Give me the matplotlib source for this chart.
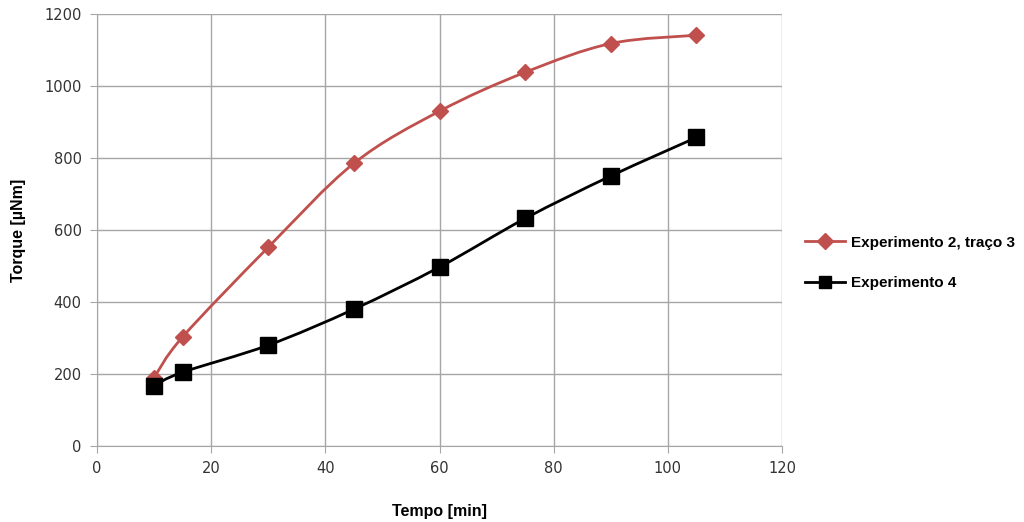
import numpy as np
import matplotlib
matplotlib.use('Agg')
import matplotlib.pyplot as plt
from matplotlib.path import Path
from matplotlib.patches import PathPatch
from matplotlib.lines import Line2D
from matplotlib.font_manager import FontProperties

plt.rcParams['font.family'] = 'DejaVu Sans'

# data
tempo = [10, 15, 30, 45, 60, 75, 90, 105]
exp2_traco3 = [190, 303, 552, 785, 930, 1038, 1118, 1141]
exp4 = [168, 205, 280, 380, 497, 632, 750, 857]
x_ticks = [0, 20, 40, 60, 80, 100, 120]
y_ticks = [0, 200, 400, 600, 800, 1000, 1200]

red = '#C0504D'
grid_col = '#A6A6A6'

tick_font = FontProperties(family='DejaVu Sans', size=10.5)
label_font = FontProperties(family='Liberation Sans', weight='bold', size=11.5)
legend_font = FontProperties(family='Liberation Sans', weight='bold', size=11)


def smooth_path(ax, x, y, tension=0.5):
    # Excel-style smoothed line: cubic bezier through the data points (in pixel space)
    pts = ax.transData.transform(np.column_stack([x, y]))
    verts = [pts[0]]
    codes = [Path.MOVETO]
    n = len(pts)
    for i in range(n - 1):
        p0 = pts[i - 1] if i > 0 else pts[i]
        p1 = pts[i]
        p2 = pts[i + 1]
        p3 = pts[i + 2] if i + 2 < n else pts[i + 1]
        c1 = p1 + (p2 - p0) * tension / 3
        c2 = p2 - (p3 - p1) * tension / 3
        verts += [c1, c2, p2]
        codes += [Path.CURVE4] * 3
    return Path(verts, codes)


fig = plt.figure(figsize=(10.24, 5.22), dpi=100)
ax = fig.add_axes([0.0947, 0.1456, 0.669, 0.8276])

ax.set_xlim(0, 120)
ax.set_ylim(0, 1200)
ax.set_xticks(x_ticks)
ax.set_xticklabels([str(t) for t in x_ticks], fontproperties=tick_font)
ax.set_yticks(y_ticks)
ax.set_yticklabels([str(t) for t in y_ticks], fontproperties=tick_font)
ax.grid(True, color=grid_col, linewidth=1)
ax.set_axisbelow(True)
for s in ['top', 'right']:
    ax.spines[s].set_visible(False)
for s in ['left', 'bottom']:
    ax.spines[s].set_color(grid_col)
ax.tick_params(direction='out', length=5, color=grid_col,
               labelcolor='#333333', pad=6)

# smoothed lines
for yy, col in [(exp2_traco3, red), (exp4, 'black')]:
    p = smooth_path(ax, tempo, yy)
    ax.add_patch(PathPatch(p, transform=None, facecolor='none', edgecolor=col,
                           linewidth=2.0, zorder=3))

ax.plot(tempo, exp2_traco3, linestyle='none', marker='D', markersize=8,
        color=red, zorder=4)
ax.plot(tempo, exp4, linestyle='none', marker='s', markersize=11,
        color='black', zorder=4)

ax.set_xlabel('Tempo [min]', fontproperties=label_font, labelpad=20)
ax.set_ylabel('Torque [µNm]', fontproperties=label_font, labelpad=13)

handles = [Line2D([], [], color=red, linewidth=2, marker='D', markersize=8),
           Line2D([], [], color='black', linewidth=2, marker='s', markersize=9)]
fig.legend(handles, ['Experimento 2, traço 3', 'Experimento 4'],
           loc='center left', bbox_to_anchor=(0.773, 0.496), frameon=False,
           prop=legend_font, handlelength=2.6, labelspacing=1.75,
           handletextpad=0.4)

fig.savefig('out.png', dpi=100)
